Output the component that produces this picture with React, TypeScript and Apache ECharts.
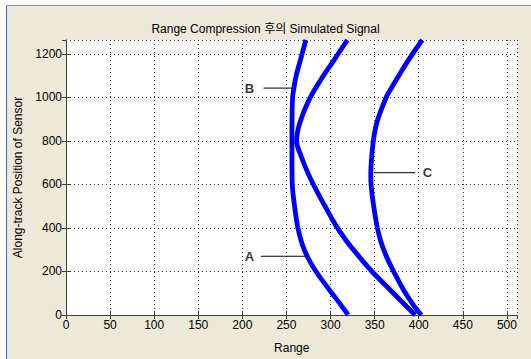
import React, { useEffect, useRef } from "react";
import * as echarts from "echarts";

// Curve A/B (left hyperbola): [range, along-track]
const curveAB: [number, number][] = [
  [272, 1264], [265, 1160], [261, 1100], [258.3, 1040], [257, 1000], [256.3, 905],
  [256.2, 800], [256.2, 700], [256.6, 600], [259.2, 500], [263, 400], [267.5, 330],
  [273.5, 270], [283.5, 200], [299, 114], [311, 50], [320, 0],
];
// Crossing curve
const curveX: [number, number][] = [
  [319, 1264], [302, 1160], [289.5, 1085], [277, 1000], [267, 905], [263, 850],
  [261.5, 801], [267, 726], [274.5, 651], [283.5, 576], [293.5, 502], [306, 412],
  [318.5, 338], [333.5, 263], [347, 200], [368, 114], [386, 40], [396, 0],
];
// Curve C
const curveC: [number, number][] = [
  [404, 1264], [386.5, 1160], [368.5, 1040], [363, 1000], [354, 905], [351, 860],
  [348.5, 800], [346.3, 711], [345.6, 640], [346.1, 592], [348.3, 518], [352.5, 412],
  [357, 338], [364, 263], [371.5, 200], [383, 114], [395, 40], [403, 0],
];

// Annotation labels and pointer lines (data coordinates)
const labelNames = ["A", "B", "C"];
const labelPos: [number, number][] = [[208, 270], [208, 1043], [410, 654]];
const pointerFrom: [number, number][] = [[221, 270], [224, 1043], [349, 654]];
const pointerTo: [number, number][] = [[276, 270], [257, 1043], [396, 654]];

const xTicks = { min: 0, max: 512, interval: 50 };
const yTicks = { min: 0, max: 1264, interval: 200 };

const FONT = "'Liberation Sans', 'Noto Sans CJK KR', sans-serif";

export default function App() {
  const ref = useRef<HTMLDivElement>(null);
  useEffect(() => {
    if (!ref.current) return;
    const chart = echarts.init(ref.current, undefined, { renderer: "svg" });
    const axisCommon = {
      type: "value" as const,
      axisLine: { show: true, lineStyle: { color: "#404040", width: 1 } },
      axisTick: { show: true, inside: true, length: 4, lineStyle: { color: "#404040" } },
    };
    const curveSeries = [curveAB, curveX, curveC].map((d) => ({
      type: "line",
      data: d,
      smooth: 0.4,
      showSymbol: false,
      symbol: "none",
      lineStyle: { color: "#0000ff", width: 4.8 },
      z: 3,
    }));
    const pointerSeries = labelNames.map((_, i) => ({
      type: "line",
      data: [pointerFrom[i], pointerTo[i]],
      symbol: "none",
      lineStyle: { color: "#000", width: 1 },
      z: 4,
    }));
    const textSeries = {
      type: "scatter",
      symbolSize: 0,
      data: labelNames.map((n, i) => ({ name: n, value: labelPos[i] })),
      label: {
        show: true,
        position: "inside",
        formatter: (p: any) => p.name,
        color: "#000",
        fontFamily: FONT,
        fontSize: 13,
        fontWeight: "bold",
      },
      z: 5,
    };
    const plain = (v: number) => String(v);
    chart.setOption({
      animation: false,
      backgroundColor: "#ffffff",
      graphic: [
        { type: "rect", shape: { x: 6, y: 5, width: 525, height: 354 }, style: { fill: "#ece9d8" }, z: -10 },
        { type: "line", shape: { x1: 6.5, y1: 5, x2: 6.5, y2: 359 }, style: { stroke: "#3f5fe0", lineWidth: 1 }, z: -9 },
        { type: "line", shape: { x1: 6, y1: 5.5, x2: 531, y2: 5.5 }, style: { stroke: "#7f8fe8", lineWidth: 1 }, z: -9 },
      ],
      title: {
        text: "Range Compression 후의 Simulated Signal",
        left: "center",
        top: 18,
        textStyle: { fontFamily: FONT, fontSize: 12, fontWeight: "normal", color: "#000" },
      },
      grid: {
        left: 66, right: 13.5, top: 40, bottom: 37,
        show: true, backgroundColor: "#ffffff", borderWidth: 0,
      },
      xAxis: [
        {
          ...axisCommon,
          ...xTicks,
          position: "bottom",
          name: "Range",
          nameLocation: "middle",
          nameGap: 27,
          nameTextStyle: { fontFamily: FONT, fontSize: 12, color: "#000" },
          axisLabel: { fontFamily: FONT, fontSize: 12, color: "#000", margin: 4, showMaxLabel: false, formatter: plain },
          splitLine: { show: true, lineStyle: { color: "#333", type: [1, 3], width: 1 } },
        },
        {
          ...axisCommon,
          ...xTicks,
          position: "top",
          axisLabel: { show: false },
          splitLine: { show: false },
        },
      ],
      yAxis: [
        {
          ...axisCommon,
          ...yTicks,
          position: "left",
          name: "Along-track Position of Sensor",
          nameLocation: "middle",
          nameGap: 34,
          nameRotate: 90,
          nameTextStyle: { fontFamily: FONT, fontSize: 12, color: "#000" },
          axisLabel: { fontFamily: FONT, fontSize: 12, color: "#000", margin: 4, showMaxLabel: false, formatter: plain },
          splitLine: { show: true, lineStyle: { color: "#333", type: [1, 3], width: 1 } },
        },
        {
          ...axisCommon,
          ...yTicks,
          position: "right",
          axisLabel: { show: false },
          splitLine: { show: false },
        },
      ],
      series: [...curveSeries, ...pointerSeries, textSeries],
    });
    return () => chart.dispose();
  }, []);
  return (
    <div
      ref={ref}
      style={{ position: "absolute", left: 0, top: 0, width: 531, height: 359 }}
    />
  );
}
